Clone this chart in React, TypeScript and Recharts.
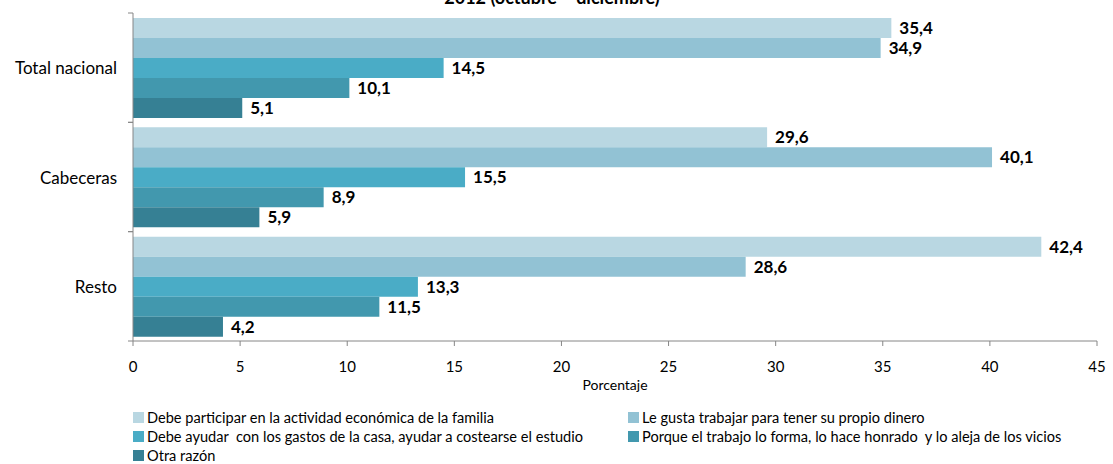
import { BarChart, Bar, XAxis, YAxis, LabelList } from "recharts";

const areas = ["Total nacional", "Cabeceras", "Resto"];
const participar = [35.4, 29.6, 42.4];
const gusta = [34.9, 40.1, 28.6];
const ayudar = [14.5, 15.5, 13.3];
const honrado = [10.1, 8.9, 11.5];
const otra = [5.1, 5.9, 4.2];
const xTicks = [0, 5, 10, 15, 20, 25, 30, 35, 40, 45];

const series = [
  { key: "participar", name: "Debe participar en la actividad económica de la familia", color: "#b9d7e2" },
  { key: "gusta", name: "Le gusta trabajar para tener su propio dinero", color: "#92c2d4" },
  { key: "ayudar", name: "Debe ayudar  con los gastos de la casa, ayudar a costearse el estudio", color: "#4aacc6" },
  { key: "honrado", name: "Porque el trabajo lo forma, lo hace honrado  y lo aleja de los vicios", color: "#4298ae" },
  { key: "otra", name: "Otra razón", color: "#368094" },
];

const data = areas.map((area, i) => ({
  area,
  participar: participar[i],
  gusta: gusta[i],
  ayudar: ayudar[i],
  honrado: honrado[i],
  otra: otra[i],
}));

const font = "Lato, 'Noto Sans', sans-serif";
const fmt = (v: any) => Number(v).toFixed(1).replace(".", ",");
const Y_TICK_SIZE = 5;
const Y_TICK_MARGIN = 11;

// category label plus Excel-style tick marks on the band edges
function AreaTick(props: any) {
  const { x, y, payload } = props;
  const axisX = x + Y_TICK_SIZE + Y_TICK_MARGIN;
  const half = payload.offset || 0;
  return (
    <g>
      <line x1={axisX - 5} x2={axisX} y1={y - half} y2={y - half} stroke="#868686" />
      <line x1={axisX - 5} x2={axisX} y1={y + half} y2={y + half} stroke="#868686" />
      <text
        x={x}
        y={y}
        textAnchor="end"
        dominantBaseline="central"
        fontFamily={font}
        fontSize={17}
        fill="#000"
      >
        {payload.value}
      </text>
    </g>
  );
}

export default function App() {
  return (
    <div
      style={{
        position: "absolute",
        left: 0,
        top: 0,
        width: 1113,
        height: 464,
        background: "#fff",
        fontFamily: font,
        overflow: "hidden",
      }}
    >
      <svg
        width={1113}
        height={20}
        style={{ position: "absolute", left: 0, top: 0 }}
      >
        <text
          x={552}
          y={4}
          textAnchor="middle"
          fontFamily={font}
          fontWeight="bold"
          fontSize={18}
          fill="#000"
        >
          2012 (octubre – diciembre)
        </text>
      </svg>
      <div style={{ position: "absolute", left: 0, top: 0 }}>
        <BarChart
          width={1113}
          height={400}
          data={data}
          layout="vertical"
          margin={{ top: 13, right: 16, left: 0, bottom: 0 }}
          barCategoryGap={5}
          barGap={0}
        >
          <YAxis
            type="category"
            dataKey="area"
            width={133}
            axisLine={{ stroke: "#868686" }}
            tickLine={false}
            tickSize={Y_TICK_SIZE}
            tickMargin={Y_TICK_MARGIN}
            tick={<AreaTick />}
          />
          <XAxis
            type="number"
            domain={[0, 45]}
            ticks={xTicks}
            height={59}
            axisLine={{ stroke: "#868686" }}
            tickLine={{ stroke: "#868686" }}
            tickSize={5}
            tickMargin={15}
            tick={{ fill: "#000", fontSize: 15, fontFamily: font }}
            label={{
              value: "Porcentaje",
              position: "insideBottom",
              offset: 10,
              fill: "#000",
              fontSize: 14,
              fontFamily: font,
            }}
          />
          {series.map((s) => (
            <Bar
              key={s.key}
              dataKey={s.key}
              name={s.name}
              fill={s.color}
              isAnimationActive={false}
            >
              <LabelList
                dataKey={s.key}
                position="right"
                offset={8}
                formatter={fmt}
                style={{
                  fill: "#000",
                  fontWeight: "bold",
                  fontSize: 17,
                  fontFamily: font,
                }}
              />
            </Bar>
          ))}
        </BarChart>
      </div>
      <div
        style={{
          position: "absolute",
          left: 133,
          top: 408,
          display: "grid",
          gridTemplateColumns: "495px auto",
          rowGap: 1,
          fontSize: 14.6,
          color: "#000",
        }}
      >
        {series.map((s) => (
          <div
            key={s.key}
            style={{ display: "flex", alignItems: "center", height: 18 }}
          >
            <span
              style={{
                display: "inline-block",
                width: 11,
                height: 11,
                background: s.color,
                marginRight: 3,
              }}
            />
            <span style={{ whiteSpace: "pre" }}>{s.name}</span>
          </div>
        ))}
      </div>
    </div>
  );
}
